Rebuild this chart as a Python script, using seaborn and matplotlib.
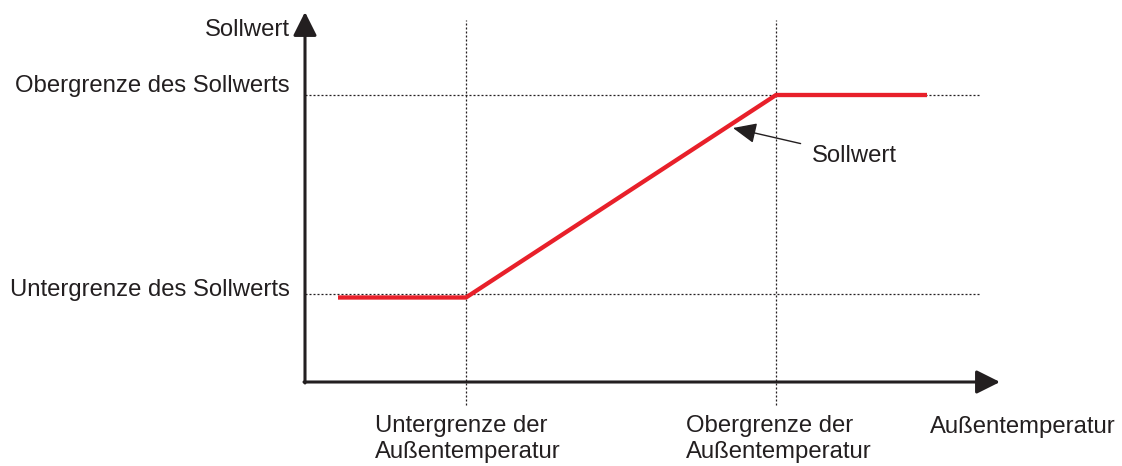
import matplotlib
matplotlib.use("Agg")
import matplotlib.pyplot as plt
import seaborn as sns
import pandas as pd

# Heating curve: setpoint as a function of outdoor temperature (schematic units)
outdoor_temp = [3.3, 16.1, 47.1, 62.2]
setpoint = [8.45, 8.45, 28.7, 28.7]

# Reference levels for the guide lines
temp_lower_limit = 16.1
temp_upper_limit = 47.1
sp_lower_limit = 8.8
sp_upper_limit = 28.7

# Axis extents
x_axis_end = 69.5
y_axis_end = 37.0

y_labels = ["Obergrenze des Sollwerts", "Untergrenze des Sollwerts"]
x_labels = ["Untergrenze der\nAußentemperatur", "Obergrenze der\nAußentemperatur"]
x_title = "Außentemperatur"
y_title = "Sollwert"
curve_label = "Sollwert"

sns.set_style("white")
plt.rcParams["font.family"] = ["Liberation Sans", "DejaVu Sans"]

fig = plt.figure(figsize=(11.22, 4.66), dpi=100)
ax = fig.add_axes([0, 0, 1, 1])
ax.set_xlim(-30.5, 81.7)
ax.set_ylim(-8.4, 38.2)
ax.axis("off")

fs = 17.2
txt_color = "#231f20"
dotted = dict(color="#231f20", lw=0.9, linestyle=(0, (1.6, 1.6)))

# Guide lines
for yv in (sp_upper_limit, sp_lower_limit):
    ax.plot([0, 67.5], [yv, yv], **dotted, zorder=1)
for xv in (temp_lower_limit, temp_upper_limit):
    ax.plot([xv, xv], [-2.3, 36.2], **dotted, zorder=1)

# Setpoint curve
df = pd.DataFrame({"Außentemperatur": outdoor_temp, "Sollwert": setpoint})
sns.lineplot(data=df, x="Außentemperatur", y="Sollwert", ax=ax, color="#e8202a",
             lw=3.1, sort=False, zorder=3, legend=False)
ax.lines[-1].set_solid_capstyle("butt")
ax.set_xlabel("")
ax.set_ylabel("")
ax.axis("off")

# Axes with arrow heads
axis_arrow = dict(arrowstyle="-|>,head_length=0.72,head_width=0.36",
                  color="#231f20", lw=2.2, mutation_scale=20,
                  shrinkA=0, shrinkB=0)
ax.annotate("", xy=(x_axis_end, 0), xytext=(-0.1, 0), arrowprops=axis_arrow, zorder=4)
ax.annotate("", xy=(0, y_axis_end), xytext=(0, -0.1), arrowprops=axis_arrow, zorder=4)

# Axis texts
ax.text(-1.5, 34.6, y_title, ha="right", va="baseline", fontsize=fs, color=txt_color)
ax.text(-1.5, 29.0, y_labels[0], ha="right", va="baseline", fontsize=fs, color=txt_color)
ax.text(-1.5, 8.6, y_labels[1], ha="right", va="baseline", fontsize=fs, color=txt_color)
ax.text(7.0, -7.6, x_labels[0], ha="left", va="baseline", fontsize=fs,
        color=txt_color, linespacing=1.25)
ax.text(38.1, -7.6, x_labels[1], ha="left", va="baseline", fontsize=fs,
        color=txt_color, linespacing=1.25)
ax.text(62.5, -5.1, x_title, ha="left", va="baseline", fontsize=fs, color=txt_color)

# Curve callout
ax.annotate(curve_label, xy=(42.8, 25.4), xytext=(50.7, 22.6),
            ha="left", va="center", fontsize=fs, color=txt_color,
            arrowprops=dict(arrowstyle="-|>,head_length=0.8,head_width=0.35",
                            color="#231f20", lw=1.0, mutation_scale=18,
                            shrinkA=6, shrinkB=0))

fig.savefig("out.png", dpi=100)
